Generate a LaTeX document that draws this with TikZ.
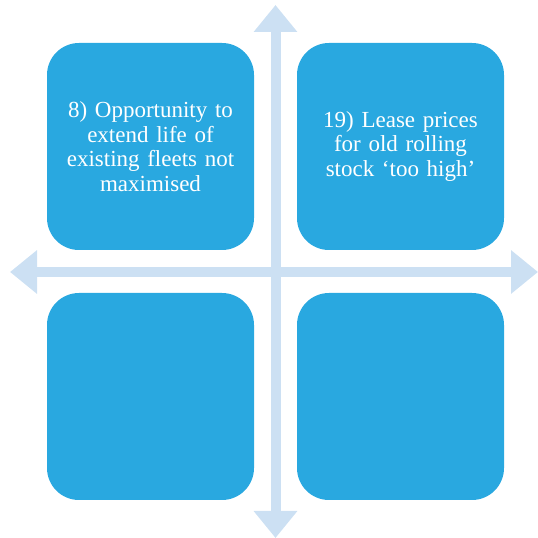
\documentclass[tikz,border=0pt]{standalone}
\usepackage{fontspec}
\setmainfont{Liberation Serif}
\usetikzlibrary{arrows.meta}
\definecolor{boxblue}{HTML}{29A8E0}
\definecolor{axisblue}{HTML}{CCE0F3}

\begin{document}
\begin{tikzpicture}[x=1pt,y=1pt,
        quadbox/.style={fill=boxblue, rounded corners=32pt, minimum width=207pt, minimum height=207pt,
            text width=195pt, align=center, text=white, font=\fontsize{23}{24.7}\selectfont},
        axis/.style={draw=axisblue, line width=10pt,
            {Triangle[width=42pt,length=27pt]}-{Triangle[width=42pt,length=27pt]}}]
        \useasboundingbox (0,0) rectangle (538,538);
        % quadrants
        \node[quadbox] (tl) at (150.5,391.5) {8) Opportunity to\\extend life of\\existing fleets not\\maximised};
        \node[quadbox] (tr) at (400.5,391.5) {19) Lease prices\\for old rolling\\stock `too high'};
        \node[quadbox] (bl) at (150.5,141.5) {};
        \node[quadbox] (br) at (400.5,141.5) {};
        % axes
        \coordinate (top) at (275.5,533);
        \coordinate (bottom) at (275.5,0);
        \coordinate (left) at (10,266);
        \coordinate (right) at (538,266);
        \draw[axis] (left) -- (right);
        \draw[axis] (bottom) -- (top);
    \end{tikzpicture}
\end{document}
